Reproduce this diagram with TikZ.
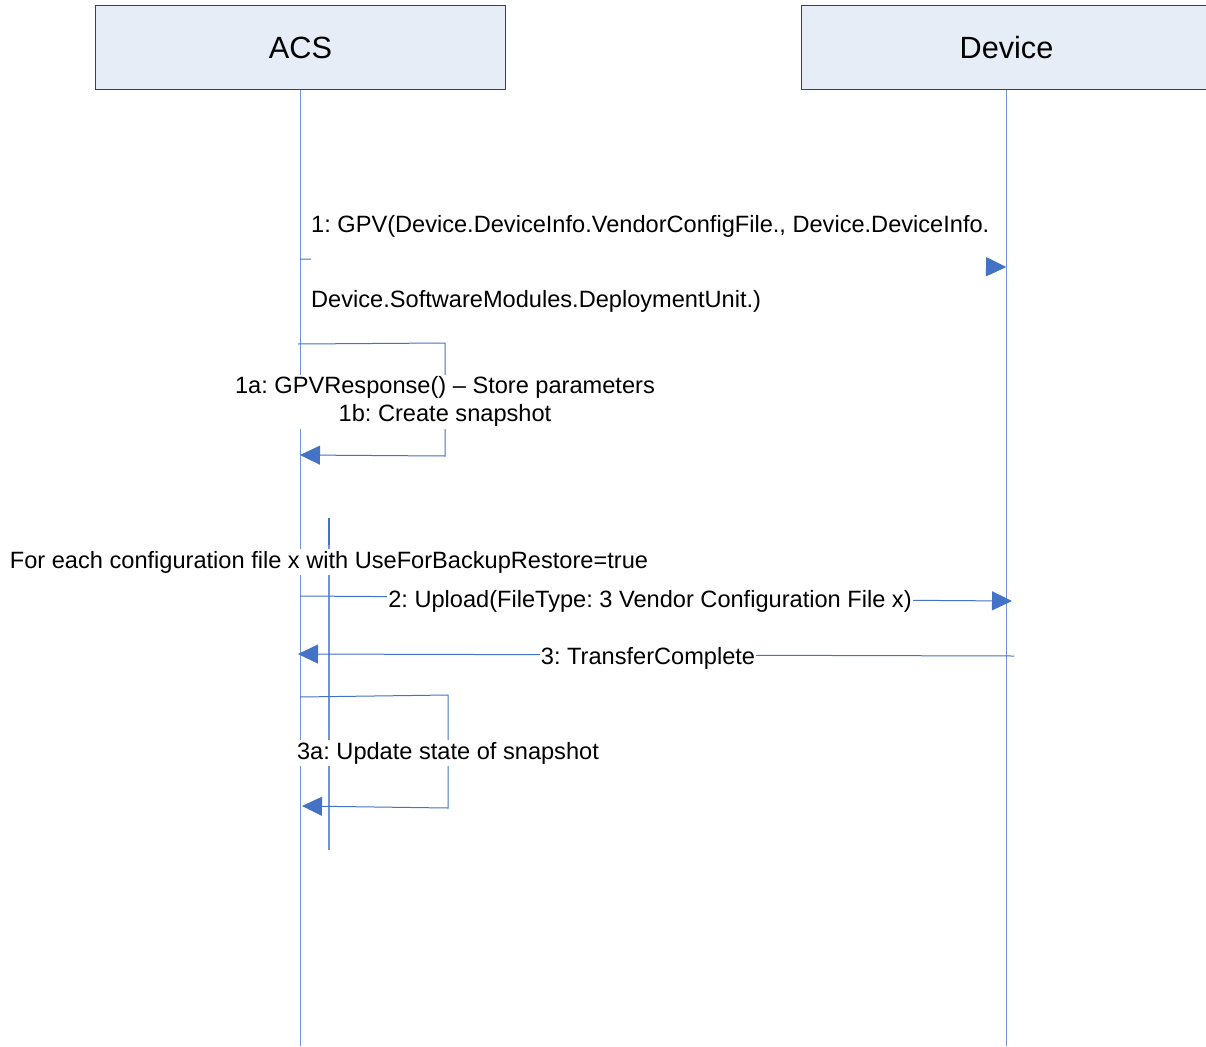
\documentclass[tikz,border=0pt]{standalone}
\usepackage{fontspec}
\setmainfont{Liberation Sans}
\usetikzlibrary{arrows.meta,calc}
\frenchspacing
\definecolor{lineblue}{RGB}{68,114,196}
\definecolor{lifeblue}{RGB}{112,148,212}
\definecolor{hdrfill}{RGB}{230,237,247}
\definecolor{hdrdraw}{RGB}{64,64,64}
\begin{document}
\begin{tikzpicture}[x=1pt,y=-1pt,
  hdr/.style={draw=hdrdraw, fill=hdrfill, line width=1pt, minimum width=410pt, minimum height=84pt, inner sep=0pt, font=\fontsize{30.7}{36}\selectfont},
  life/.style={draw=lifeblue, line width=1.1pt},
  msg/.style={draw=lineblue, line width=1pt},
  tipped/.style={-{Triangle[length=20pt,width=19pt]}},
  lbl/.style={fill=white, text=black, inner xsep=1pt, inner ysep=2pt, font=\fontsize{23.6}{28}\selectfont}
]
\useasboundingbox (0,0) rectangle (1206,1046);
\clip (0,0) rectangle (1206,1046);
% participants
\node[hdr] (acs) at (300.5,48) {ACS};
\node[hdr] (dev) at (1006.5,48) {Device};
% lifelines
\coordinate (acsbot) at (300.5,1046);
\coordinate (devbot) at (1006.5,1046);
\draw[life] (acs.south) -- (acsbot);
\draw[life] (dev.south) -- (devbot);
% loop lifeline
\coordinate (looptop) at (329,518);
\coordinate (loopmid) at (329,545);
\coordinate (loopbot) at (329,850);
\draw[life] (looptop) -- (loopbot);
\draw[msg, line width=1.8pt] (looptop) -- (loopmid);
% message 1
\coordinate (m1s) at (300,259);
\coordinate (m1e) at (1006,267);
\draw[msg, tipped] (m1s) -- (m1e);
\node[lbl, inner xsep=0pt, align=left, anchor=west, font=\fontsize{23.6}{75}\selectfont] (l1) at (311,264)
  {1: GPV(Device.DeviceInfo.VendorConfigFile., Device.DeviceInfo.\\Device.SoftwareModules.DeploymentUnit.)};
\draw[msg, tipped] ($(m1s)!0.973!(m1e)$) -- (m1e);
% self message 1a/1b
\coordinate (s1a) at (298,344);
\coordinate (s1b) at (445,343);
\coordinate (s1c) at (445,456);
\coordinate (s1d) at (300,455);
\draw[msg, tipped] (s1a) -- (s1b) -- (s1c) -- (s1d);
\node[lbl, align=center] (l1a) at (445,401.5) {1a: GPVResponse() – Store parameters\\1b: Create snapshot};
% loop label
\node[lbl] (loop) at (329,562) {For each configuration file x with UseForBackupRestore=true};
% message 2
\coordinate (m2s) at (300,596);
\coordinate (m2e) at (1012,601);
\draw[msg, tipped] (m2s) -- (m2e);
\node[lbl] (l2) at (650,601.5) {2: Upload(FileType: 3 Vendor Configuration File x)};
% message 3
\coordinate (m3s) at (1014,656);
\coordinate (m3e) at (298,654);
\draw[msg, tipped] (m3s) -- (m3e);
\node[lbl] (l3) at (648,658) {3: TransferComplete};
% self message 3a
\coordinate (s3a) at (300,697);
\coordinate (s3b) at (448,695);
\coordinate (s3c) at (448,808);
\coordinate (s3d) at (302,806);
\draw[msg, tipped] (s3a) -- (s3b) -- (s3c) -- (s3d);
\node[lbl] (l3a) at (448,753) {3a: Update state of snapshot};
\end{tikzpicture}
\end{document}
